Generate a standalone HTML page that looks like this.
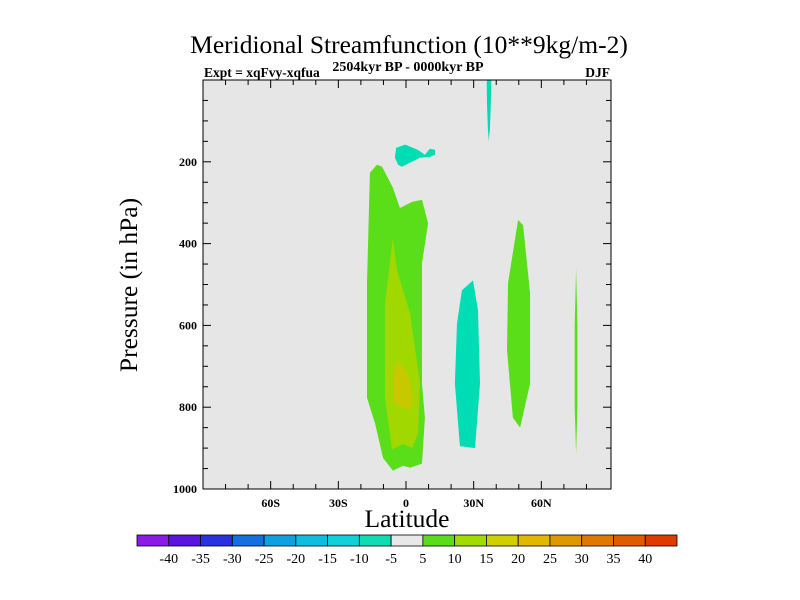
<!DOCTYPE html>
<html><head><meta charset="utf-8"><style>
body{margin:0;background:#fff;}
svg{display:block;font-family:"Liberation Serif",serif;}
</style></head><body>
<svg id="chart" width="800" height="600" xmlns="http://www.w3.org/2000/svg">
<text x="409" y="53" font-size="25.5" text-anchor="middle">Meridional Streamfunction (10**9kg/m-2)</text>
<text x="204" y="77" font-size="13.5" font-weight="bold">Expt = xqFvy-xqfua</text>
<text x="408" y="71" font-size="14" font-weight="bold" text-anchor="middle">2504kyr BP - 0000kyr BP</text>
<text x="610" y="77" font-size="13.5" font-weight="bold" text-anchor="end">DJF</text>
<rect x="203" y="80" width="408" height="409" fill="#e6e6e6"/>
<g id="contours"></g>
<rect x="203" y="80" width="408" height="409" fill="none" stroke="#000" stroke-width="1"/>
<g id="ticks" stroke="#000" stroke-width="1"></g>
<g id="labels" font-size="12" font-weight="bold"></g>
<text x="407" y="527" font-size="25.5" text-anchor="middle">Latitude</text>
<text transform="translate(137,285) rotate(-90)" font-size="25.5" text-anchor="middle">Pressure (in hPa)</text>
<g id="colorbar"></g>
</svg>
<script>
const xTicks=[-60,-30,0,30,60];
const xTickLabels=["60S","30S","0","30N","60N"];
const yTicks=[200,400,600,800,1000];
const yTickLabels=["200","400","600","800","1000"];
const levelLabels=["-40","-35","-30","-25","-20","-15","-10","-5","5","10","15","20","25","30","35","40"];
const levelColors=["#8a1ae6","#5a14e0","#2a32e0","#1470e0","#0fa0e0","#10bce0","#10d0d8","#10dcb4","#e8e8e8","#5adc1a","#a0dc00","#d0d000","#e0b800","#e09800","#e07800","#e05a00","#e03a00"];
// contour polygons: [lat, pressure]
const regionGreenEq=[[-16,227],[-12.9,207],[-10.6,212],[-5.8,263],[-2.7,313],[2.7,298],[7.1,293],[9.8,350],[7.1,448],[7.1,742],[8.4,826],[7.1,938],[1.8,948],[-1.3,943],[-5.8,955],[-10.2,924],[-13.7,840],[-17.3,777],[-17.3,497]];
const regionYGEq=[[-5.8,387],[-4,465],[1.8,571],[6.2,742],[5.3,865],[2.7,900],[-1.3,890],[-6.2,903],[-9.3,777],[-9.3,546]];
const regionYellowEq=[[-3.5,686],[0.9,718],[3.1,777],[1.8,809],[-5.8,789],[-5.8,718]];
const regionCyan30N=[[24.8,514],[29.7,490],[31.9,563],[32.8,742],[30.6,900],[23.9,895],[21.7,742],[22.6,595]];
const regionGreen50N=[[49.7,342],[51.9,355],[55,522],[55,742],[50.6,850],[47.4,826],[44.8,661],[45.2,497]];
const regionGreen75N=[[75.4,460],[76,600],[76,800],[75.4,915],[74.8,800],[74.8,600]];
const regionCyanTop=[[35.8,0],[37.8,0],[37.6,60],[37.2,120],[36.7,150],[36.3,120],[35.9,60]];
const regionCyanUpper=[[-4.4,166],[-0.4,158],[5.3,171],[8.4,183],[10.6,168],[12.9,171],[12.9,183],[10.6,188],[6.2,190],[1.8,202],[-1.8,212],[-3.5,207],[-4.9,190]];
const regions=[
 {pts:regionGreenEq,level:10,name:"contour-green-equator"},
 {pts:regionYGEq,level:15,name:"contour-15-equator"},
 {pts:regionYellowEq,level:20,name:"contour-20-equator"},
 {pts:regionCyan30N,level:-10,name:"contour-negative-30n"},
 {pts:regionGreen50N,level:10,name:"contour-green-50n"},
 {pts:regionGreen75N,level:10,name:"contour-green-75n"},
 {pts:regionCyanTop,level:-10,name:"contour-negative-top"},
 {pts:regionCyanUpper,level:-10,name:"contour-negative-upper"}
];
const NS="http://www.w3.org/2000/svg";
const X0=203,X1=611,Y0=80,Y1=489;
const xs=lat=>406+lat*(203/90);
const ys=p=>Y0+p*(Y1-Y0)/1000;
const colorFor=l=>({"-10":"#00dcb4","10":"#5ade1a","15":"#a0d800","20":"#c8c800"})[l];
const cg=document.getElementById('contours');
regions.forEach(r=>{
 const p=document.createElementNS(NS,'polygon');
 p.setAttribute('points',r.pts.map(d=>xs(d[0]).toFixed(1)+','+ys(d[1]).toFixed(1)).join(' '));
 p.setAttribute('fill',colorFor(r.level));
 
 
 cg.appendChild(p);
});
const tg=document.getElementById('ticks'),lg=document.getElementById('labels');
function line(x1,y1,x2,y2){const l=document.createElementNS(NS,'line');l.setAttribute('x1',x1);l.setAttribute('y1',y1);l.setAttribute('x2',x2);l.setAttribute('y2',y2);tg.appendChild(l);}
for(let lat=-80;lat<=80;lat+=10){const x=xs(lat),len=lat%30===0?8:5;line(x,Y1,x,Y1-len);line(x,Y0,x,Y0+len);}
for(let p=50;p<1000;p+=50){const y=ys(p),len=p%200===0?8:5;line(X0,y,X0+len,y);line(X1,y,X1-len,y);}
xTicks.forEach((v,i)=>{const t=document.createElementNS(NS,'text');t.setAttribute('x',xs(v));t.setAttribute('y',Y1+18);t.setAttribute('text-anchor','middle');t.textContent=xTickLabels[i];


lg.appendChild(t);});
yTicks.forEach((v,i)=>{const t=document.createElementNS(NS,'text');t.setAttribute('x',X0-6);t.setAttribute('y',ys(v)+4);t.setAttribute('text-anchor','end');t.textContent=yTickLabels[i];


lg.appendChild(t);});
const cb=document.getElementById('colorbar');
const bx=137,bw=540/levelColors.length,by=535,bh=11;
levelColors.forEach((c,i)=>{const r=document.createElementNS(NS,'rect');r.setAttribute('x',bx+i*bw);r.setAttribute('y',by);r.setAttribute('width',bw);r.setAttribute('height',bh);r.setAttribute('fill',c);r.setAttribute('stroke','#000');r.setAttribute('stroke-width','0.8');


cb.appendChild(r);});
levelLabels.forEach((s,i)=>{const t=document.createElementNS(NS,'text');t.setAttribute('x',bx+(i+1)*bw);t.setAttribute('y',by+28);t.setAttribute('text-anchor','middle');t.setAttribute('font-size','14');t.textContent=s;


cb.appendChild(t);});
</script>
</body></html>
